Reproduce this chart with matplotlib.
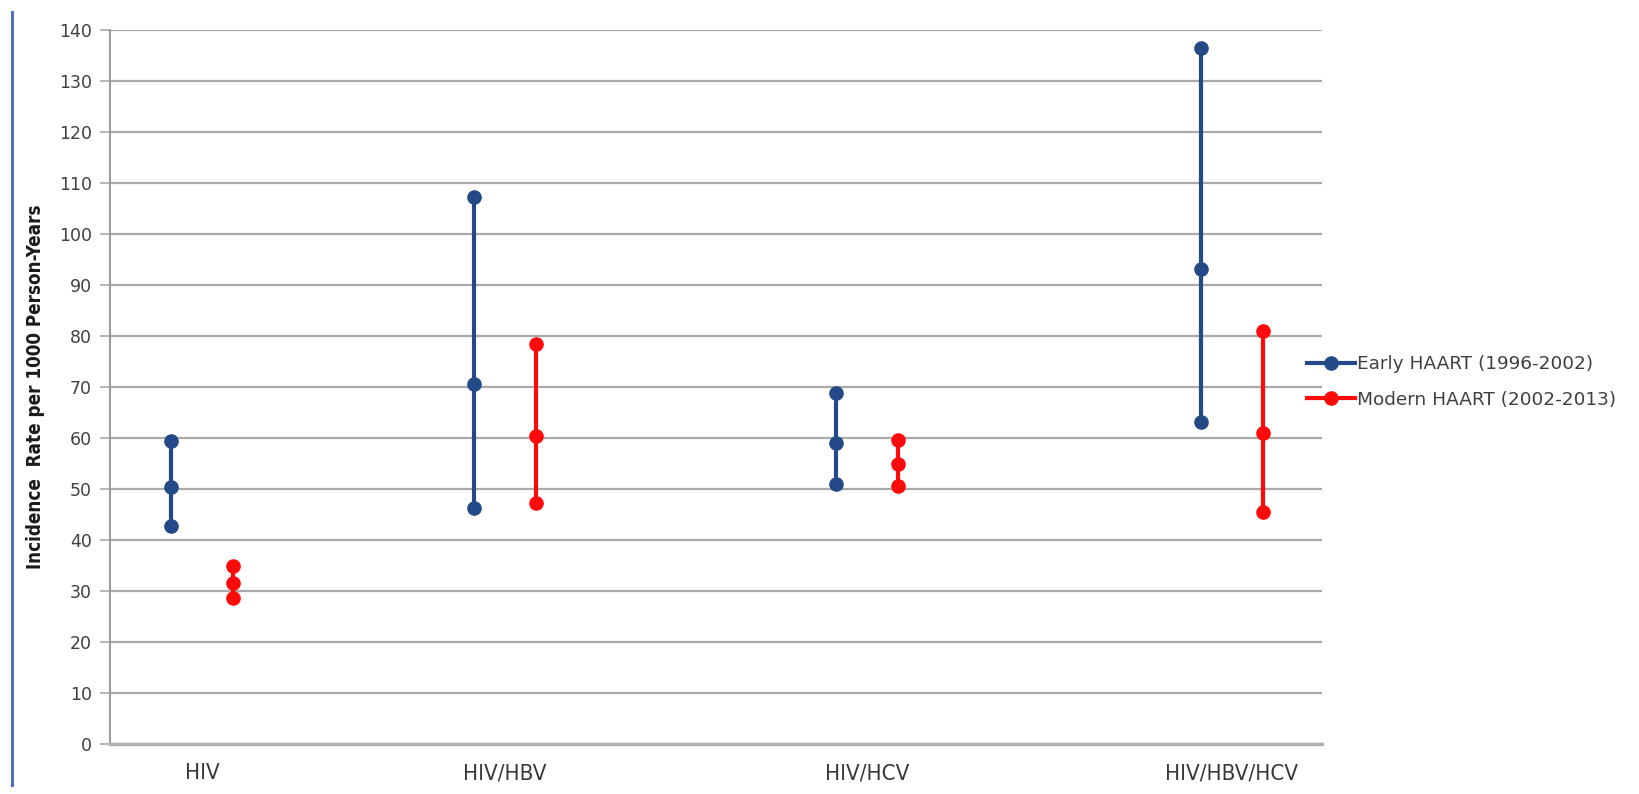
import numpy as np
import matplotlib
matplotlib.use("Agg")
import matplotlib.pyplot as plt
from matplotlib.lines import Line2D

# incidence per 1000 person-years: upper, point estimate, lower
categories = ["HIV", "HIV/HBV", "HIV/HCV", "HIV/HBV/HCV"]
early_high = [59.5, 107.3, 68.8, 136.5]
early_mid = [50.3, 70.6, 59.0, 93.1]
early_low = [42.8, 46.3, 51.0, 63.1]
modern_high = [35.0, 78.4, 59.6, 81.0]
modern_mid = [31.6, 60.4, 55.0, 61.0]
modern_low = [28.6, 47.2, 50.6, 45.5]
yticks = list(range(0, 141, 10))

# horizontal layout of the groups (uneven, as in the original sheet)
x_center = np.array([92, 395, 757, 1122])
offset = 31

blue = "#234a86"
red = "#ff0a0a"
grid_col = "#aaaaaa"
text_col = "#404040"

fig = plt.figure(figsize=(16.4, 7.94), dpi=100)
ax = fig.add_axes([110 / 1640, 1 - 744 / 794, 1212 / 1640, 714 / 794])

for xs, hi, mid, lo, col, lab in [
    (x_center - offset, early_high, early_mid, early_low, blue, "Early HAART (1996-2002)"),
    (x_center + offset, modern_high, modern_mid, modern_low, red, "Modern HAART (2002-2013)"),
]:
    for i in range(len(categories)):
        ax.plot([xs[i]] * 3, [hi[i], mid[i], lo[i]], color=col, lw=3,
                marker="o", ms=9.5, solid_capstyle="butt", zorder=3)
    ax.plot([], [], color=col, lw=3, marker="o", ms=9.5, label=lab)

ax.set_xlim(0, 1212)
ax.set_ylim(0, 140)
ax.set_yticks(yticks)
ax.yaxis.grid(True, color=grid_col, lw=1.6)
ax.set_axisbelow(True)

ax.set_xticks(x_center)
ax.set_xticklabels(categories, family="DejaVu Sans", stretch="condensed",
                   fontsize=16, color="#383838")
ax.tick_params(axis="x", length=0, pad=14)
ax.tick_params(axis="y", length=7, width=1.2, color=grid_col, pad=6,
               labelsize=12.5, labelcolor=text_col)

for s in ["top", "right"]:
    ax.spines[s].set_visible(False)
ax.spines["left"].set_color("#999999")
ax.spines["left"].set_linewidth(1.4)
ax.spines["bottom"].set_color("#b0b0b0")
ax.spines["bottom"].set_linewidth(2.5)

ax.set_ylabel("Incidence  Rate per 1000 Person-Years", fontsize=13.5,
              fontweight="bold", stretch="condensed", color="#1a1a1a", labelpad=10)

fig.legend(loc="center left", bbox_to_anchor=(1300 / 1640, 1 - 382 / 794),
           frameon=False, fontsize=13.3, handlelength=2.6, handletextpad=0.1,
           labelspacing=0.95, labelcolor=text_col, borderaxespad=0)

# blue page margin rule
fig.add_artist(Line2D([12 / 1640, 12 / 1640], [1 - 785 / 794, 1 - 12 / 794],
                      color="#4a74c0", lw=2.2, transform=fig.transFigure))

fig.savefig("out.png", dpi=100)
